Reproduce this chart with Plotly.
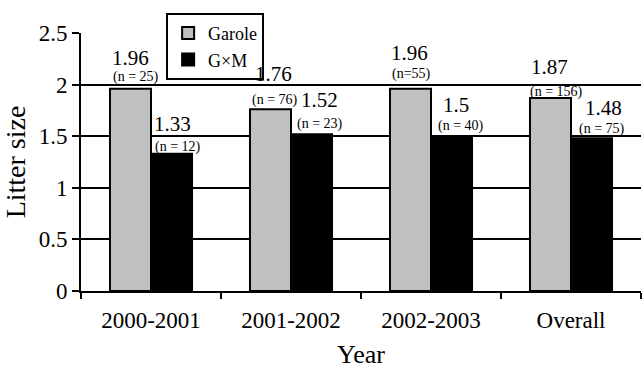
import plotly.graph_objects as go

# ---- data ----
years = ["2000-2001", "2001-2002", "2002-2003", "Overall"]
garole = [1.96, 1.76, 1.96, 1.87]
gxm = [1.33, 1.52, 1.50, 1.48]
garole_n = ["(n = 25)", "(n = 76)", "(n=55)", "(n = 156)"]
gxm_n = ["(n = 12)", "(n = 23)", "(n = 40)", "(n = 75)"]
y_ticks = [0, 0.5, 1, 1.5, 2, 2.5]
y_tick_text = ["0", "0.5", "1", "1.5", "2", "2.5"]

# ---- label placement (pixel offsets from bar centre / top) ----
g_val_dx = [0, 3, -1, -1]
g_val_dy = [31, 35, 36, 31]
g_n_dx = [5, 4, 1, 6]
g_n_dy = [12, 9, 15, 6]
m_val_dx = [1, 8, 4, 12]
m_val_dy = [30, 34, 31, 30]
m_n_dx = [6, 8, 9, 10]
m_n_dy = [7, 10, 10, 9]

FONT = "Liberation Serif"
BAR_HALF = 20.5  # half bar width in px

fig = go.Figure()
fig.add_trace(go.Bar(name="Garole", x=years, y=garole,
                     marker=dict(color="#c0c0c0", line=dict(color="black", width=2))))
fig.add_trace(go.Bar(name="G\u00d7M", x=years, y=gxm,
                     marker=dict(color="black", line=dict(color="black", width=2))))

ann = []
for i, cat in enumerate(years):
    ann.append(dict(x=cat, y=garole[i], xref="x", yref="y", text=f"{garole[i]:g}",
                    showarrow=False, xshift=-BAR_HALF + g_val_dx[i], yshift=g_val_dy[i],
                    yanchor="middle", font=dict(size=21, family=FONT, color="black")))
    ann.append(dict(x=cat, y=garole[i], xref="x", yref="y", text=garole_n[i],
                    showarrow=False, xshift=-BAR_HALF + g_n_dx[i], yshift=g_n_dy[i],
                    yanchor="middle", font=dict(size=14, family=FONT, color="black")))
    ann.append(dict(x=cat, y=gxm[i], xref="x", yref="y", text=f"{gxm[i]:g}",
                    showarrow=False, xshift=BAR_HALF + m_val_dx[i], yshift=m_val_dy[i],
                    yanchor="middle", font=dict(size=21, family=FONT, color="black")))
    ann.append(dict(x=cat, y=gxm[i], xref="x", yref="y", text=gxm_n[i],
                    showarrow=False, xshift=BAR_HALF + m_n_dx[i], yshift=m_n_dy[i],
                    yanchor="middle", font=dict(size=14, family=FONT, color="black")))

fig.update_layout(
    width=644, height=369,
    margin=dict(l=81, r=3, t=33, b=78, autoexpand=False),
    paper_bgcolor="white", plot_bgcolor="white",
    barmode="group", bargap=0.414, bargroupgap=0,
    font=dict(family=FONT, color="black"),
    showlegend=True,
    legend=dict(x=0.152, y=1.078, xanchor="left", yanchor="top",
                bgcolor="white", bordercolor="black", borderwidth=2,
                font=dict(size=18, family=FONT, color="black"),
                itemwidth=30, tracegroupgap=0),
    annotations=ann,
    xaxis=dict(
        type="category",
        showline=True, linecolor="black", linewidth=2,
        ticks="outside", tickson="boundaries", ticklen=6, tickwidth=2, tickcolor="black",
        tickfont=dict(size=23, family=FONT, color="black"),
        ticklabelstandoff=7,
        showgrid=False,
        title=dict(text="Year", font=dict(size=26, family=FONT, color="black"), standoff=13),
    ),
    yaxis=dict(
        range=[0, 2.5], tickvals=y_ticks, ticktext=y_tick_text,
        showline=True, linecolor="black", linewidth=2,
        ticks="outside", ticklen=7, tickwidth=2, tickcolor="black",
        tickfont=dict(size=23, family=FONT, color="black"),
        showgrid=True, gridcolor="black", gridwidth=2,
        zeroline=False,
        title=dict(text="Litter size", font=dict(size=28, family=FONT, color="black"), standoff=6),
    ),
)

fig.write_html("out.html", config={"displayModeBar": False},
               post_script="document.body.style.margin='0';document.body.style.overflow='hidden';")
